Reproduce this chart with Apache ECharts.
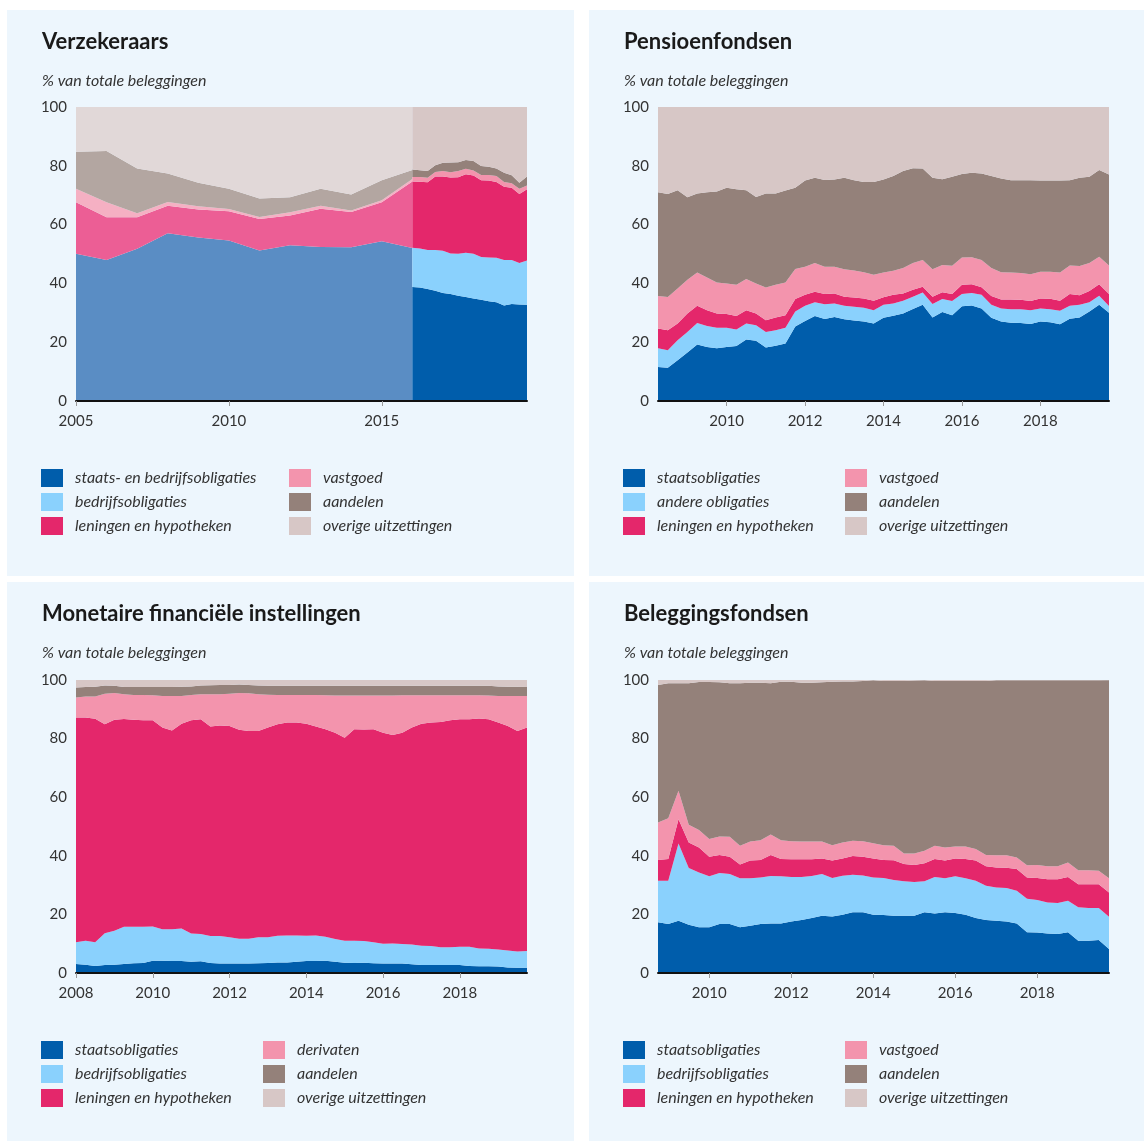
<!DOCTYPE html>
<html>
<head>
<meta charset="utf-8">
<script src="https://cdn.jsdelivr.net/npm/echarts@6/dist/echarts.min.js"></script>
<style>
body{margin:0;background:#fff;width:1144px;height:1141px;position:relative;overflow:hidden;}
.panel{position:absolute;background:#EDF6FD;}
#p1{left:7px;top:10px;width:567px;height:566px;}
#p2{left:589px;top:10px;width:555px;height:566px;}
#p3{left:7px;top:582px;width:567px;height:559px;}
#p4{left:589px;top:582px;width:555px;height:559px;}
</style>
</head>
<body>
<div id="p1" class="panel"></div>
<div id="p2" class="panel"></div>
<div id="p3" class="panel"></div>
<div id="p4" class="panel"></div>
<script>
// ---- Verzekeraars: jaarcijfers t/m 2016 (oude reeks) ----
var verzJaren = [2005,2006,2007,2008,2009,2010,2011,2012,2013,2014,2015,2016];
var verzOudStaatsBedrijf = [50.1,48.0,51.8,57.1,55.6,54.6,51.2,53.0,52.4,52.3,54.3,52.0];
var verzOudLeningen = [17.5,14.5,10.7,9.3,9.5,9.9,10.7,10.1,13.0,12.0,13.3,22.7];
var verzOudVastgoed = [4.6,5.1,1.4,1.3,1.1,0.8,0.7,1.1,1.0,0.5,0.7,0.8];
var verzOudAandelen = [12.6,17.4,15.2,9.7,8.0,6.9,6.3,5.1,5.8,5.4,6.8,3.1];
var verzOudOverig = [15.2,15.0,20.9,22.6,25.8,27.8,31.1,30.7,27.8,29.8,24.9,21.4];

// ---- Verzekeraars: kwartaalcijfers vanaf 2016 ----
var verzKwartalen = quarterRange(2016, 2019.75);
var verzStaats = [38.8,38.6,38.1,37.5,36.7,36.4,35.8,35.4,34.9,34.4,33.9,33.6,32.5,33.0,32.8,32.7];
var verzBedrijf = [13.3,13.3,13.3,13.9,14.4,13.8,14.3,15.0,15.2,14.6,14.9,15.1,15.5,15.0,14.1,15.1];
var verzLeningen = [22.6,22.7,23.0,25.0,25.3,25.8,26.0,26.7,26.6,26.1,26.2,25.8,24.9,24.5,23.5,24.2];
var verzVastgoed = [1.5,1.6,1.5,1.5,1.8,1.8,2.1,1.9,1.7,1.8,1.9,2.0,1.6,1.6,1.8,1.3];
var verzAandelen = [2.5,2.3,2.3,2.3,2.8,3.3,3.0,3.0,3.2,3.0,2.8,2.6,3.1,2.7,2.0,3.1];
var verzOverig = [21.3,21.5,21.8,19.8,19.0,18.9,18.8,18.0,18.4,20.1,20.3,20.9,22.4,23.2,25.8,23.6];
var verzTicks = [2005,2010,2015];

// ---- Pensioenfondsen ----
var pensKwartalen = quarterRange(2008.25, 2019.75);
var pensStaats = [11.6,11.3,13.9,16.5,19.2,18.4,17.9,18.4,18.7,20.9,20.5,18.2,18.8,19.6,25.3,27.2,28.9,27.9,28.6,27.8,27.4,27.0,26.4,28.3,29.0,29.8,31.3,32.7,28.4,30.3,29.2,32.2,32.5,31.5,28.3,27.0,26.6,26.5,26.2,27.0,26.8,26.1,28.0,28.4,30.4,32.7,30.0];
var pensAndere = [6.3,6.0,6.8,7.0,7.3,7.1,7.0,6.5,5.6,5.5,5.3,5.3,5.3,5.3,5.1,5.2,4.7,5.0,4.6,4.6,4.7,4.7,4.5,4.4,4.2,4.3,4.2,4.2,4.6,4.4,4.8,4.2,4.2,4.6,4.4,4.5,4.6,4.7,4.7,4.5,4.4,4.6,4.4,4.3,3.2,3.1,2.3];
var pensLeningen = [6.8,6.8,5.7,6.3,5.9,5.4,4.9,4.7,4.6,4.5,4.0,4.0,4.3,4.3,4.3,3.7,3.6,3.5,3.4,3.1,3.1,3.2,3.2,2.6,2.9,2.5,2.3,2.0,2.5,2.3,2.4,3.1,3.0,2.6,3.0,3.0,3.3,3.2,3.1,3.4,3.6,3.4,4.0,3.3,3.8,3.9,4.1];
var pensVastgoed = [11.0,11.3,11.9,11.4,11.3,11.1,10.5,10.4,10.6,10.6,10.2,11.1,11.1,11.1,10.2,9.6,9.7,9.3,9.1,9.3,9.2,8.9,8.8,8.4,8.2,8.6,9.1,9.1,9.3,9.3,9.6,9.3,9.2,9.3,9.5,9.3,9.2,9.1,9.1,9.1,9.2,9.6,9.7,9.9,9.5,9.4,9.7];
var pensAandelen = [35.3,35.0,33.4,28.1,26.9,29.0,31.0,32.5,32.5,30.2,29.4,32.0,31.1,31.3,27.6,29.3,29.0,29.5,29.6,31.1,30.7,30.7,31.6,31.6,32.2,33.0,32.3,31.1,31.1,29.1,30.3,28.4,28.7,29.4,31.3,31.9,31.4,31.6,32.0,31.0,31.0,31.3,29.0,30.0,29.4,29.5,30.9];
var pensOverig = [29.0,29.6,28.3,30.7,29.4,29.0,28.7,27.5,28.0,28.3,30.6,29.4,29.4,28.4,27.5,25.0,24.1,24.8,24.7,24.1,24.9,25.5,25.5,24.7,23.5,21.8,20.8,20.9,24.1,24.6,23.7,22.8,22.4,22.6,23.5,24.3,24.9,24.9,24.9,25.0,25.0,25.0,24.9,24.1,23.7,21.4,23.0];
var pensTicks = [2010,2012,2014,2016,2018];

// ---- Monetaire financiele instellingen ----
var mfiKwartalen = quarterRange(2008, 2019.75);
var mfiStaats = [3.1,2.8,2.4,2.7,2.8,3.1,3.3,3.4,4.2,4.2,4.1,4.1,3.8,4.0,3.4,3.2,3.2,3.2,3.2,3.3,3.4,3.6,3.6,3.8,4.1,4.1,4.2,3.8,3.5,3.4,3.5,3.3,3.2,3.2,3.2,3.0,2.7,2.7,2.7,2.7,2.7,2.4,2.3,2.3,2.2,1.9,1.8,1.8];
var mfiBedrijf = [7.4,8.2,8.1,10.9,11.6,12.7,12.5,12.4,11.7,10.7,10.8,11.1,9.7,9.3,9.2,9.4,9.0,8.5,8.5,8.9,8.8,9.1,9.2,9.0,8.6,8.7,8.2,7.8,7.5,7.6,7.4,7.2,6.8,6.9,6.7,6.7,6.6,6.5,6.1,6.1,6.3,6.6,6.1,6.0,5.8,5.8,5.5,5.7];
var mfiLeningen = [76.7,76.2,76.3,71.3,72.0,70.9,70.6,70.5,70.4,68.9,67.9,69.9,72.8,73.3,71.5,71.9,72.1,71.3,70.9,70.4,71.6,72.2,72.7,72.7,72.4,71.3,70.8,70.4,69.3,72.2,72.2,72.7,72.0,71.1,72.1,74.1,75.8,76.3,76.9,77.5,77.6,77.6,78.5,78.3,77.5,76.6,75.3,76.3];
var mfiDerivaten = [6.8,7.2,7.6,10.4,9.2,8.4,8.5,8.6,8.5,10.7,11.7,9.4,8.6,8.5,11.0,10.6,11.0,12.6,12.9,12.5,11.2,10.0,9.4,9.4,9.8,10.8,11.6,12.7,14.4,11.5,11.6,11.5,12.7,13.5,12.8,11.0,9.7,9.3,9.1,8.5,8.2,8.2,7.9,8.1,9.0,10.2,11.9,10.7];
var mfiAandelen = [3.4,3.2,3.3,2.8,2.4,2.5,2.7,2.7,2.8,3.1,3.1,3.2,2.9,3.0,3.1,3.2,3.0,2.9,2.8,3.0,3.0,3.1,3.1,3.1,3.1,3.1,3.2,3.3,3.3,3.3,3.3,3.3,3.3,3.3,3.2,3.2,3.2,3.2,3.2,3.2,3.2,3.2,3.2,3.3,3.3,3.2,3.2,3.1];
var mfiOverig = [2.6,2.4,2.3,1.9,2.0,2.4,2.4,2.4,2.4,2.4,2.4,2.3,2.2,1.9,1.8,1.7,1.7,1.5,1.7,1.9,2.0,2.0,2.0,2.0,2.0,2.0,2.0,2.0,2.0,2.0,2.0,2.0,2.0,2.0,2.0,2.0,2.0,2.0,2.0,2.0,2.0,2.0,2.0,2.0,2.2,2.3,2.3,2.4];
var mfiTicks = [2008,2010,2012,2014,2016,2018];

// ---- Beleggingsfondsen ----
var belKwartalen = quarterRange(2008.75, 2019.75);
var belStaats = [17.3,16.7,17.8,16.5,15.6,15.6,16.7,16.7,15.6,16.1,16.7,16.9,16.9,17.6,18.1,18.8,19.5,19.3,19.9,20.7,20.7,19.9,19.8,19.5,19.5,19.5,20.7,20.3,20.7,20.5,19.9,18.8,18.1,17.8,17.6,16.9,13.9,13.8,13.5,13.3,13.9,11.0,11.0,11.3,8.2];
var belBedrijf = [14.2,14.8,26.4,19.3,18.7,17.4,17.4,17.1,16.7,16.2,15.9,16.2,16.1,15.2,14.7,14.3,14.3,13.1,13.3,12.8,12.6,12.7,12.6,12.2,11.8,11.6,10.6,12.5,11.6,12.5,12.4,12.7,11.7,11.4,11.4,11.2,11.4,11.1,10.6,10.6,10.8,11.4,11.2,10.9,11.0];
var belLeningen = [7.1,7.4,8.3,8.7,8.5,6.7,6.2,5.9,4.7,6.1,6.0,7.2,5.9,6.0,6.0,5.7,5.3,6.0,5.9,6.4,6.4,6.5,6.2,6.8,5.9,5.8,6.2,6.1,6.1,6.1,6.6,6.9,6.6,6.8,6.9,7.4,7.3,7.5,7.9,8.1,8.1,7.9,8.1,8.1,8.3];
var belVastgoed = [12.8,13.9,9.7,6.1,6.0,6.0,6.3,6.8,6.4,6.5,6.7,7.0,6.4,6.2,6.1,6.1,5.8,5.2,5.4,5.2,5.3,5.2,5.0,4.9,3.6,3.9,4.2,4.5,4.4,4.1,4.3,3.9,3.9,4.2,4.3,3.9,4.2,4.5,4.4,4.4,4.9,4.8,4.8,4.6,4.8];
var belAandelen = [46.9,46.1,36.7,48.3,50.5,53.6,52.6,52.4,55.5,54.2,53.8,51.6,54.1,54.4,54.2,54.2,54.3,55.8,55.0,54.4,54.7,55.6,56.1,56.3,58.9,59.0,58.2,56.3,56.9,56.5,56.5,57.4,59.4,59.7,59.7,60.5,63.1,63.0,63.5,63.5,62.2,64.8,64.8,65.0,67.6];
var belOverig = [1.7,1.1,1.1,1.1,0.7,0.7,0.8,1.1,1.1,0.9,0.9,1.1,0.6,0.6,0.9,0.9,0.8,0.6,0.5,0.5,0.3,0.1,0.3,0.3,0.3,0.2,0.1,0.3,0.3,0.3,0.3,0.3,0.3,0.1,0.1,0.1,0.1,0.1,0.1,0.1,0.1,0.1,0.1,0.1,0.1];
var belTicks = [2010,2012,2014,2016,2018];

var COLOR = {
	STAATS:'#005DAB',
	BEDRIJF:'#8AD1FD',
	LENING:'#E4276B',
	VAST:'#F394AD',
	AANDEL:'#94817A',
	OVERIG:'#D7C7C6'
};
// lichtere tinten voor de oude reeks (t/m 2016)
var COLOR_OUD = {
	STAATS:'#5A8DC4',
	LENING:'#EC5E95',
	VAST:'#F5B0C3',
	AANDEL:'#B3A6A1',
	OVERIG:'#E1D8D8'
};
var FONT = 'Lato';

function quarterRange(from,to){
	var arr = [];
	for(var t = from; t <= to + 1e-9; t += 0.25){
		arr.push(Math.round(t*100)/100);
	}
	return arr;
}

// waarde staat als eerste kolom, zodat de stapeling op de y-as gebeurt
function areaSeries(name,xs,ys,color,stack){
	return {
		name:name,
		type:'line',
		stack:stack,
		symbol:'none',
		dimensions:['aandeel','jaar'],
		encode:{x:'jaar',y:'aandeel'},
		lineStyle:{width:0},
		areaStyle:{color:color,opacity:1},
		emphasis:{disabled:true},
		data:xs.map(function(x,i){ return [ys[i],x]; })
	};
}

function legendCol(names,colors,left){
	return {
		left:left,
		top:459,
		orient:'vertical',
		padding:0,
		itemWidth:22,
		itemHeight:18,
		itemGap:6,
		icon:'rect',
		selectedMode:false,
		textStyle:{fontFamily:FONT,fontStyle:'italic',fontSize:16,color:'#333',padding:[0,0,0,7]},
		data:names.map(function(n,i){ return {name:n,itemStyle:{color:colors[i]}}; })
	};
}

function renderPanel(id,cfg){
	var myChart = echarts.init(document.getElementById(id));
	myChart.setOption({
		animation:false,
		textStyle:{fontFamily:FONT},
		title:{
			text:cfg.title,
			subtext:'% van totale beleggingen',
			left:35,
			top:19,
			padding:0,
			itemGap:17,
			textStyle:{fontFamily:FONT,fontSize:22,fontWeight:'bold',color:'#1a1a1a',lineHeight:26},
			subtextStyle:{fontFamily:FONT,fontSize:16,fontStyle:'italic',color:'#333',lineHeight:18}
		},
		grid:{left:69,top:cfg.gridTop,width:451,height:cfg.gridHeight},
		xAxis:{
			type:'value',
			min:cfg.xMin,
			max:cfg.xMax,
			z:5,
			axisLine:{lineStyle:{color:'#111',width:2}},
			axisTick:{show:true,length:5,lineStyle:{color:'#999'},customValues:cfg.ticks},
			axisLabel:{customValues:cfg.ticks,margin:13,fontSize:15,color:'#333',formatter:function(v){ return String(v); }},
			splitLine:{show:false}
		},
		yAxis:{
			type:'value',
			min:0,
			max:100,
			interval:20,
			axisLine:{show:false},
			axisTick:{show:false},
			splitLine:{show:false},
			axisLabel:{margin:9,fontSize:15,color:'#333'}
		},
		legend:[
			legendCol(cfg.names.slice(0,3),cfg.colors.slice(0,3),34),
			legendCol(cfg.names.slice(3),cfg.colors.slice(3),cfg.legendRight)
		],
		series:cfg.series
	});
}

var kleuren = [COLOR.STAATS,COLOR.BEDRIJF,COLOR.LENING,COLOR.VAST,COLOR.AANDEL,COLOR.OVERIG];

// Verzekeraars
var verzNamen = ['staats- en bedrijfsobligaties','bedrijfsobligaties','leningen en hypotheken','vastgoed','aandelen','overige uitzettingen'];
renderPanel('p1',{
	title:'Verzekeraars',
	gridTop:97,gridHeight:294,
	xMin:2005,xMax:2019.75,ticks:verzTicks,
	names:verzNamen,colors:kleuren,legendRight:282,
	series:[
		areaSeries('oud staats',verzJaren,verzOudStaatsBedrijf,COLOR_OUD.STAATS,'oud'),
		areaSeries('oud leningen',verzJaren,verzOudLeningen,COLOR_OUD.LENING,'oud'),
		areaSeries('oud vastgoed',verzJaren,verzOudVastgoed,COLOR_OUD.VAST,'oud'),
		areaSeries('oud aandelen',verzJaren,verzOudAandelen,COLOR_OUD.AANDEL,'oud'),
		areaSeries('oud overig',verzJaren,verzOudOverig,COLOR_OUD.OVERIG,'oud'),
		areaSeries(verzNamen[0],verzKwartalen,verzStaats,COLOR.STAATS,'nieuw'),
		areaSeries(verzNamen[1],verzKwartalen,verzBedrijf,COLOR.BEDRIJF,'nieuw'),
		areaSeries(verzNamen[2],verzKwartalen,verzLeningen,COLOR.LENING,'nieuw'),
		areaSeries(verzNamen[3],verzKwartalen,verzVastgoed,COLOR.VAST,'nieuw'),
		areaSeries(verzNamen[4],verzKwartalen,verzAandelen,COLOR.AANDEL,'nieuw'),
		areaSeries(verzNamen[5],verzKwartalen,verzOverig,COLOR.OVERIG,'nieuw')
	]
});

// Pensioenfondsen
var pensNamen = ['staatsobligaties','andere obligaties','leningen en hypotheken','vastgoed','aandelen','overige uitzettingen'];
var pensData = [pensStaats,pensAndere,pensLeningen,pensVastgoed,pensAandelen,pensOverig];
renderPanel('p2',{
	title:'Pensioenfondsen',
	gridTop:97,gridHeight:294,
	xMin:2008.25,xMax:2019.75,ticks:pensTicks,
	names:pensNamen,colors:kleuren,legendRight:256,
	series:pensNamen.map(function(n,i){ return areaSeries(n,pensKwartalen,pensData[i],kleuren[i],'p'); })
});

// MFI's
var mfiNamen = ['staatsobligaties','bedrijfsobligaties','leningen en hypotheken','derivaten','aandelen','overige uitzettingen'];
var mfiData = [mfiStaats,mfiBedrijf,mfiLeningen,mfiDerivaten,mfiAandelen,mfiOverig];
renderPanel('p3',{
	title:'Monetaire financiële instellingen',
	gridTop:98,gridHeight:293,
	xMin:2008,xMax:2019.75,ticks:mfiTicks,
	names:mfiNamen,colors:kleuren,legendRight:256,
	series:mfiNamen.map(function(n,i){ return areaSeries(n,mfiKwartalen,mfiData[i],kleuren[i],'m'); })
});

// Beleggingsfondsen
var belNamen = ['staatsobligaties','bedrijfsobligaties','leningen en hypotheken','vastgoed','aandelen','overige uitzettingen'];
var belData = [belStaats,belBedrijf,belLeningen,belVastgoed,belAandelen,belOverig];
renderPanel('p4',{
	title:'Beleggingsfondsen',
	gridTop:98,gridHeight:293,
	xMin:2008.75,xMax:2019.75,ticks:belTicks,
	names:belNamen,colors:kleuren,legendRight:256,
	series:belNamen.map(function(n,i){ return areaSeries(n,belKwartalen,belData[i],kleuren[i],'b'); })
});
</script>
</body>
</html>
